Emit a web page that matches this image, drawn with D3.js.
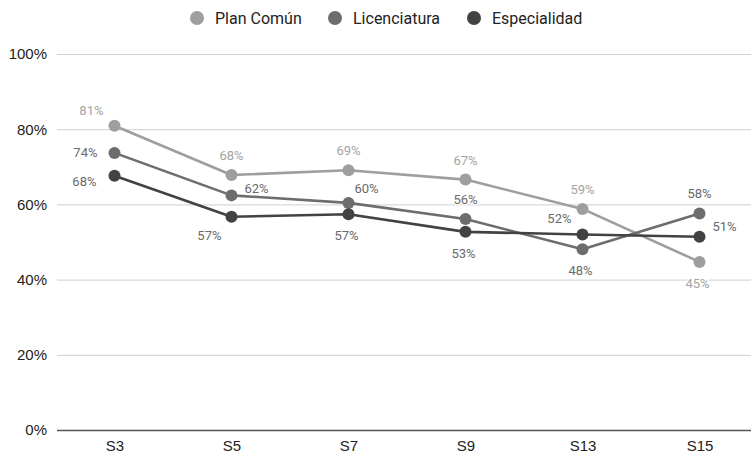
<!DOCTYPE html>
<html>
<head>
<meta charset="utf-8">
<script src="https://cdn.jsdelivr.net/npm/d3@7"></script>
<style>
  html, body { margin: 0; padding: 0; background: #fff; }
  svg { display: block; }
</style>
</head>
<body>
<svg id="chart" width="751" height="453"></svg>
<script>
// Semesters on the x axis
const semesters = ["S3", "S5", "S7", "S9", "S13", "S15"];

// Share of students per semester (percent)
const planComun     = [80.9, 67.8, 69.1, 66.6, 58.8, 44.7];
const licenciatura  = [73.7, 62.4, 60.4, 56.1, 48.1, 57.6];
const especialidad  = [67.6, 56.7, 57.4, 52.7, 52.0, 51.4];

const seriesNames = ["Plan Común", "Licenciatura", "Especialidad"];
const yTicks = [0, 20, 40, 60, 80, 100];

// Where each value label sits relative to its point
const labelSide = {
  "Plan Común":   ["upleft", "up", "up", "up", "up", "down"],
  "Licenciatura": ["left", "right", "upright", "up", "down", "up"],
  "Especialidad": ["leftlow", "downleft", "down", "down", "upleft", "right"]
};

const lineColors  = { "Plan Común": "#9e9e9e", "Licenciatura": "#6d6d6d", "Especialidad": "#424242" };
const labelColors = { "Plan Común": "#a4a4a4", "Licenciatura": "#6a6a6a", "Especialidad": "#6a6a6a" };

const series = [
  { name: seriesNames[0], values: planComun },
  { name: seriesNames[1], values: licenciatura },
  { name: seriesNames[2], values: especialidad }
];

const svg = d3.select("#chart");
const margin = { top: 54, left: 57, bottom: 23 };
const W = 751, H = 453;

const x = d3.scalePoint().domain(semesters).range([56, 758]).padding(0.5);
const y = d3.scaleLinear().domain([0, 100]).range([H - margin.bottom, margin.top]);

// Gridlines and y labels
const yAxis = d3.axisLeft(y).tickValues(yTicks).tickSize(-(W - margin.left)).tickFormat(d => d + "%").tickPadding(10);
const gy = svg.append("g").attr("transform", `translate(${margin.left},0)`).call(yAxis);
gy.select(".domain").remove();
gy.selectAll(".tick line").attr("stroke", "#cfcfcf").attr("stroke-width", 1);
gy.selectAll(".tick text")
  .attr("fill", "#222")
  .attr("font-family", "'Liberation Sans', Arial, sans-serif")
  .attr("font-size", 15);
gy.selectAll(".tick").filter(d => d === 0).select("line").attr("stroke", "#555").attr("stroke-width", 1.6);

// X labels
const xAxis = d3.axisBottom(x).tickSize(0).tickPadding(10);
const gx = svg.append("g").attr("transform", `translate(0,${y(0)})`).call(xAxis);
gx.select(".domain").remove();
gx.selectAll(".tick text")
  .attr("fill", "#222")
  .attr("font-family", "'Liberation Sans', Arial, sans-serif")
  .attr("font-size", 15);

const line = d3.line().x((d, i) => x(semesters[i])).y(d => y(d));

// [dx, dy, anchor] for each label placement
const offsets = {
  up:       [0, -15, "middle"],
  down:     [-2, 26, "middle"],
  left:     [-17, 4, "end"],
  leftlow:  [-18, 10, "end"],
  right:    [13, -2, "start"],
  upleft:   [-11, -11, "end"],
  upright:  [6, -10, "start"],
  downleft: [-10, 23, "end"]
};
const rightSide = { "Especialidad": [13, -6, "start"] };

series.forEach(s => {
  const g = svg.append("g");
  g.append("path")
    .datum(s.values)
    .attr("d", line)
    .attr("fill", "none")
    .attr("stroke", lineColors[s.name])
    .attr("stroke-width", 2.6)
    .attr("stroke-linejoin", "round");
  g.selectAll("circle")
    .data(s.values)
    .join("circle")
    .attr("cx", (d, i) => x(semesters[i]))
    .attr("cy", d => y(d))
    .attr("r", 6)
    .attr("fill", lineColors[s.name]);
});

// Value labels, drawn above all lines with a white halo
series.forEach(s => {
  const off = i => {
    const side = labelSide[s.name][i];
    if (side === "right" && rightSide[s.name]) return rightSide[s.name];
    return offsets[side];
  };
  svg.append("g").selectAll("text")
    .data(s.values)
    .join("text")
    .attr("x", (d, i) => x(semesters[i]) + off(i)[0])
    .attr("y", (d, i) => y(d) + off(i)[1])
    .attr("text-anchor", (d, i) => off(i)[2])
    .attr("font-family", "Roboto, sans-serif")
    .attr("font-size", 13)
    .attr("fill", labelColors[s.name])
    .attr("stroke", "#fff")
    .attr("stroke-width", 3)
    .attr("paint-order", "stroke")
    .text(d => Math.round(d) + "%");
});

// Legend
const legendX = [197, 335, 474];
const legend = svg.append("g");
series.forEach((s, i) => {
  legend.append("circle").attr("cx", legendX[i]).attr("cy", 18).attr("r", 7).attr("fill", lineColors[s.name]);
  legend.append("text")
    .attr("x", legendX[i] + 18)
    .attr("y", 23.5)
    .attr("font-family", "Roboto, sans-serif")
    .attr("font-size", 16)
    .attr("fill", "#222")
    .text(s.name);
});
</script>
</body>
</html>
